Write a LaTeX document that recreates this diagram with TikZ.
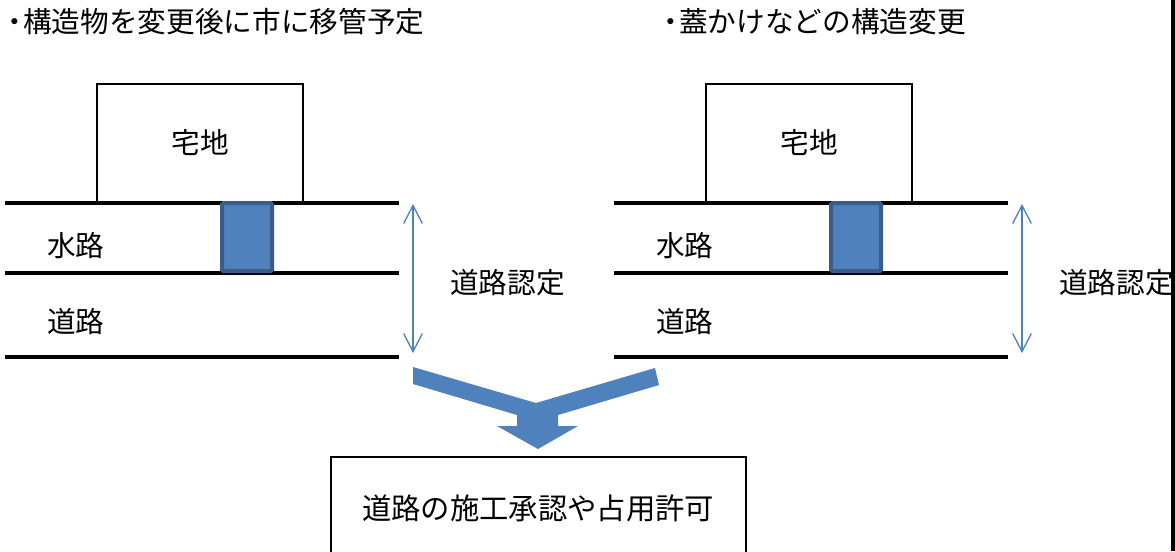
\documentclass[tikz,border=0pt]{standalone}
\usepackage{fontspec}
\setmainfont{Noto Sans CJK JP}
\usetikzlibrary{arrows.meta}
\definecolor{fillblue}{HTML}{4F81BD}
\definecolor{edgeblue}{HTML}{385D8A}
\tikzset{
  lbl/.style={inner sep=0pt, font=\fontsize{21.5pt}{25pt}\selectfont},
  ttl/.style={lbl, anchor=west},
  landbox/.style={draw=black, line width=1.4pt, fill=white},
  road/.style={draw=black, line width=2.4pt},
  pipe/.style={draw=edgeblue, fill=fillblue, line width=3pt, rounded corners=1pt},
  dim/.style={draw=fillblue, line width=1pt, {Straight Barb[length=13.5pt,width=14pt]}-{Straight Barb[length=13.5pt,width=14pt]}},
  bigarrow/.style={fill=fillblue, draw=none},
  resultbox/.style={draw=black, line width=1.4pt, fill=white}
}
\begin{document}
\begin{tikzpicture}[x=0.75pt, y=-0.75pt]
\clip (0,0) rectangle (1175,551);
\fill[white] (0,0) rectangle (1175,551);

% titles
\node[ttl] (t1) at (0,22) {・\kern-0.2em構造物を変更後に市に移管予定};
\node[ttl] (t2) at (656,22) {・\kern-0.2em蓋かけなどの構造変更};

% panels
\foreach \dx/\nm in {0/L, 609/R} {
  \begin{scope}[xshift=\dx*0.75pt]
    \draw[landbox] (97,84) rectangle (303,203);
    \node[lbl] (land\nm) at (200,143) {宅地};
    \coordinate (a\nm) at (5,203);  \coordinate (b\nm) at (399,203);
    \coordinate (c\nm) at (5,273);  \coordinate (d\nm) at (399,273);
    \coordinate (e\nm) at (5,357);  \coordinate (f\nm) at (399,357);
    \draw[road] (a\nm) -- (b\nm);
    \draw[road] (c\nm) -- (d\nm);
    \draw[road] (e\nm) -- (f\nm);
    \draw[pipe] (222,203) rectangle (272,271);
    \node[lbl, anchor=west] (water\nm) at (47,246) {水路};
    \node[lbl, anchor=west] (roadt\nm) at (47,322) {道路};
    \coordinate (up\nm) at (413,204);
    \coordinate (dn\nm) at (413,353);
    \draw[dim] (up\nm) -- (dn\nm);
    \node[lbl, anchor=west] (cert\nm) at (450,283) {道路認定};
  \end{scope}
}

% merge arrow
\fill[bigarrow] (413,367) -- (536,403) -- (655,368) -- (659,385) -- (558,415) -- (558,426) -- (578,426) -- (538,449) -- (497,426) -- (517,426) -- (517,415) -- (413,384) -- cycle;

% result box
\draw[resultbox] (331,457) rectangle (746,570);
\node[lbl, font=\fontsize{22pt}{26pt}\selectfont] (result) at (538,508) {道路の施工承認や占用許可};

% right edge bar
\fill[black] (1171,0) rectangle (1176,551);
\end{tikzpicture}
\end{document}
